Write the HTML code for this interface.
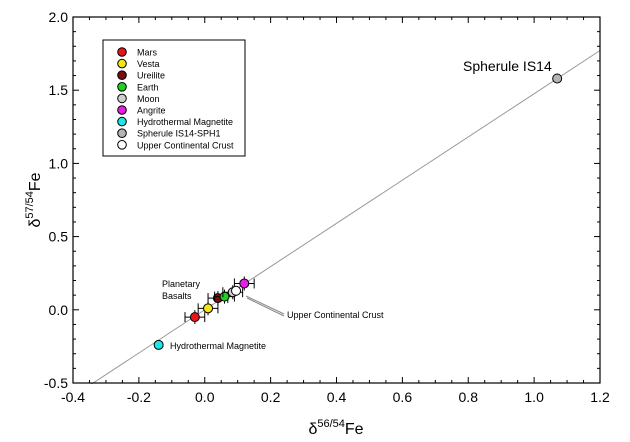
<!DOCTYPE html>
<html><head><meta charset="utf-8"><style>
body{margin:0;background:#fff;}
svg{display:block;font-family:"Liberation Sans",Arial,sans-serif;}
</style></head><body>
<svg id="c" width="630" height="442"></svg>
<script>
const xTicks=[-0.4,-0.2,0.0,0.2,0.4,0.6,0.8,1.0,1.2];
const yTicks=[-0.5,0.0,0.5,1.0,1.5,2.0];
const names=["Mars","Vesta","Ureilite","Earth","Moon","Angrite","Hydrothermal Magnetite","Spherule IS14-SPH1","Upper Continental Crust"];
const colors=["#e8141b","#f2e614","#7a0d0d","#1ed21e","#cfcfcf","#e61ee6","#1ee6e6","#b4b4b4","#ffffff"];
const xVals=[-0.03,0.01,0.04,0.06,0.085,0.12,-0.14,1.07,0.095];
const yVals=[-0.05,0.01,0.08,0.09,0.12,0.18,-0.24,1.58,0.13];
const xErr=[0.03,0.03,0.03,0.03,0.03,0.03,0.0,0.0,0.0];
const slope=[1.476];
const NS="http://www.w3.org/2000/svg";
const svg=document.getElementById('c');
const X0=73,X1=600,Y0=383,Y1=17;
const sx=v=>X0+(v+0.4)/1.6*(X1-X0);
const sy=v=>Y0-(v+0.5)/2.5*(Y0-Y1);
function el(t,a,p){const e=document.createElementNS(NS,t);for(const k in a)e.setAttribute(k,a[k]);(p||svg).appendChild(e);return e;}
let e;
// fit line
e=el('line',{x1:sx(-0.4),y1:sy(-0.4*slope[0]),x2:sx(1.2),y2:sy(1.2*slope[0]),stroke:'#999','stroke-width':1});


// clip line below -0.5 via redraw of white cover
el('rect',{x:0,y:Y0+1,width:630,height:60,fill:'#fff'});
el('rect',{x:0,y:0,width:X0,height:442,fill:'#fff'});
e=el('rect',{x:X0,y:Y1,width:X1-X0,height:Y0-Y1,fill:'none',stroke:'#000','stroke-width':1.2});


// minor/major x ticks
for(let v=-0.4;v<=1.2001;v+=0.05){const major=Math.abs(v*10-Math.round(v*10))<1e-6&&Math.round(v*10)%2===0;const L=major?6:3;
el('line',{x1:sx(v),y1:Y0,x2:sx(v),y2:Y0-L,stroke:'#000'});el('line',{x1:sx(v),y1:Y1,x2:sx(v),y2:Y1+L,stroke:'#000'});}
for(let v=-0.5;v<=2.0001;v+=0.1){const major=Math.abs(v*2-Math.round(v*2))<1e-6;const L=major?6:3;
el('line',{x1:X0,y1:sy(v),x2:X0+L,y2:sy(v),stroke:'#000'});el('line',{x1:X1,y1:sy(v),x2:X1-L,y2:sy(v),stroke:'#000'});}
xTicks.forEach(v=>{e=el('text',{x:sx(v),y:Y0+19,'text-anchor':'middle','font-size':14});e.textContent=v.toFixed(1);

});
yTicks.forEach(v=>{e=el('text',{x:X0-5,y:sy(v)+5,'text-anchor':'end','font-size':14});e.textContent=v.toFixed(1);

});
e=el('text',{x:336,y:434,'text-anchor':'middle','font-size':16});e.innerHTML='δ<tspan font-size="11" dy="-7">56/54</tspan><tspan dy="7">Fe</tspan>';


e=el('text',{x:0,y:0,'text-anchor':'middle','font-size':16,transform:'translate(40,200) rotate(-90)'});e.innerHTML='δ<tspan font-size="11" dy="-7">57/54</tspan><tspan dy="7">Fe</tspan>';


// points
xVals.forEach((v,i)=>{const cx=sx(v),cy=sy(yVals[i]);
if(xErr[i]>0){const a=sx(v-xErr[i]),b=sx(v+xErr[i]);
el('line',{x1:a,y1:cy,x2:b,y2:cy,stroke:'#000'});el('line',{x1:a,y1:cy-5,x2:a,y2:cy+5,stroke:'#000'});el('line',{x1:b,y1:cy-5,x2:b,y2:cy+5,stroke:'#000'});
el('line',{x1:cx,y1:cy-7,x2:cx,y2:cy+7,stroke:'#000'});}
e=el('circle',{cx:cx,cy:cy,r:4.5,fill:colors[i],stroke:'#000','stroke-width':1});

});
// annotations
function txt(x,y,s,fs,n){const t=el('text',{x:x,y:y,'font-size':fs});t.textContent=s;return t;}
txt(463,71,'Spherule IS14',14,'spherule-label');
txt(162,287,'Planetary',9,'planetary-basalts-label');txt(162,299,'Basalts',9,'planetary-basalts-label-2');
txt(170,349,'Hydrothermal Magnetite',9,'hydrothermal-label');
txt(287,318,'Upper Continental Crust',9,'ucc-label');
el('line',{x1:284,y1:314,x2:246,y2:296,stroke:'#888'});el('line',{x1:284,y1:316,x2:247,y2:298,stroke:'#888'});
// legend
const lg=el('g',{});
el('rect',{x:103,y:40,width:142,height:116,fill:'#fff',stroke:'#000'},lg);
names.forEach((n,i)=>{const y=52+i*11.6;
el('circle',{cx:122,cy:y,r:4.3,fill:colors[i],stroke:'#000'},lg);
const t=el('text',{x:137,y:y+3.5,'font-size':9},lg);t.textContent=n;

});
</script>
</body></html>
